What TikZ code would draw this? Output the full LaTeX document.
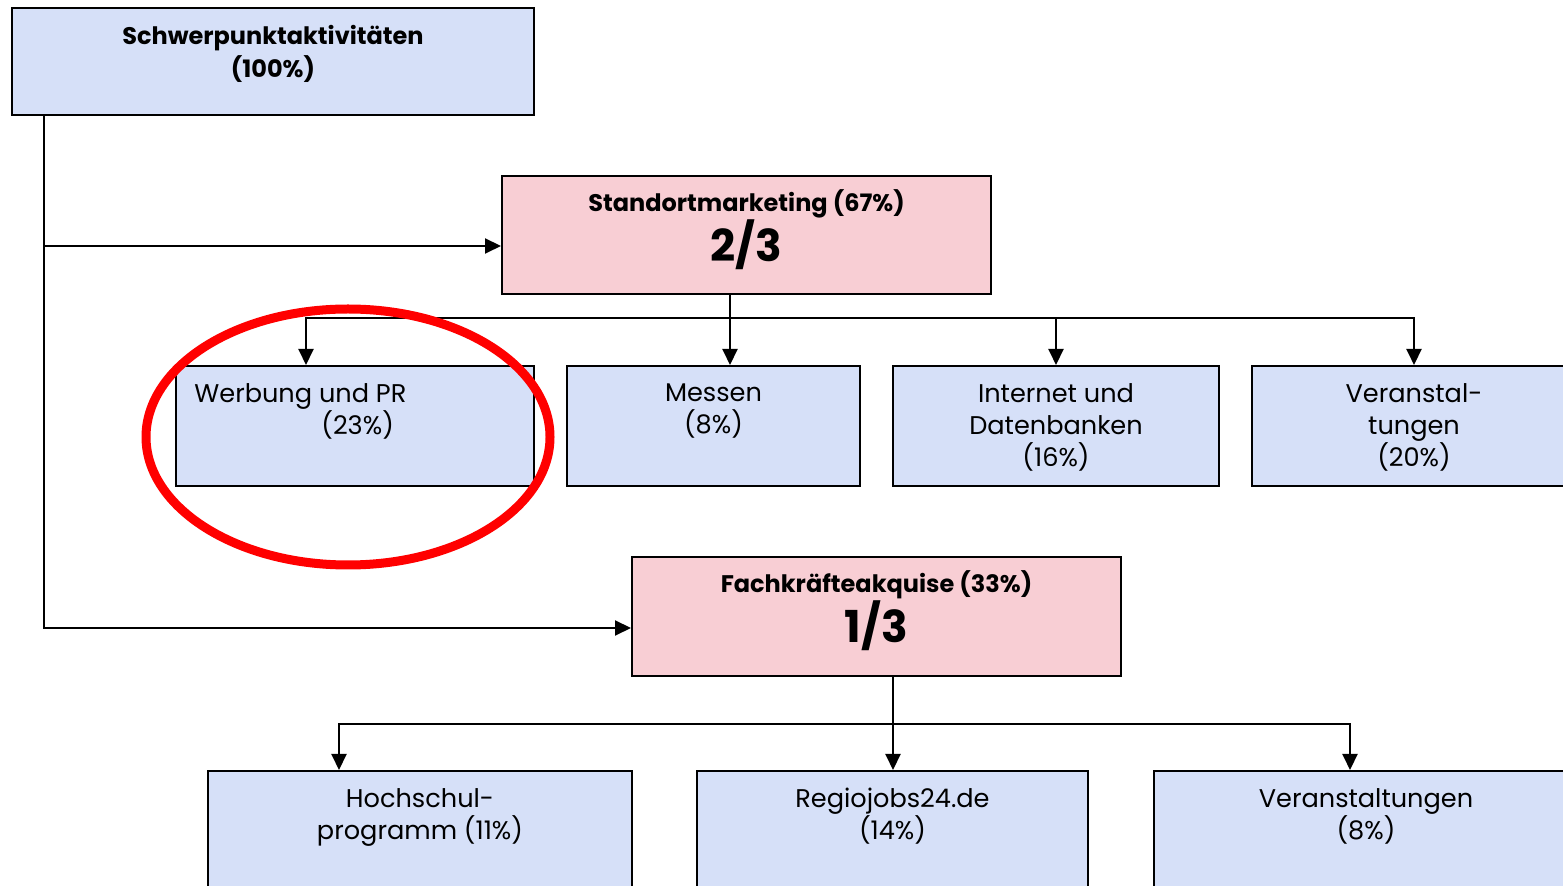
\documentclass[tikz,border=0pt]{standalone}
\usepackage{fontspec}
\setmainfont{Poppins}
\usetikzlibrary{arrows.meta}
\definecolor{boxblue}{RGB}{214,224,248}
\definecolor{boxpink}{RGB}{248,206,212}
\tikzset{
  bluebox/.style={draw=black, line width=1pt, fill=boxblue, inner sep=0pt},
  pinkbox/.style={draw=black, line width=1pt, fill=boxpink, inner sep=0pt},
  txt/.style={align=center, inner sep=0pt, font=\fontsize{12.8}{16}\selectfont},
  boldtxt/.style={align=center, inner sep=0pt, font=\fontsize{12}{16.5}\selectfont\bfseries},
  arr/.style={line width=1pt, -{Triangle[length=8pt,width=7.5pt]}},
  line/.style={line width=1pt}
}

\begin{document}
\begin{tikzpicture}[x=0.5pt,y=-0.5pt]
\useasboundingbox (0,0) rectangle (1563,886);
\clip (0,0) rectangle (1563,886);

% top level
\node[bluebox, minimum width=261pt, minimum height=53.5pt] (top) at (273,61.5) {};
\node[boldtxt, anchor=north] (top-t) at ([yshift=-9pt]top.north) {Schwerpunktaktivitäten\\(100\%)};

% second level
\node[pinkbox, minimum width=244.5pt, minimum height=59pt] (standort) at (746.5,235) {};
\node[boldtxt, anchor=north] (standort-t) at ([yshift=-7pt]standort.north)
  {Standortmarketing (67\%)\\{\fontsize{22}{24}\selectfont 2/3}};
\node[pinkbox, minimum width=244.5pt, minimum height=59.5pt] (fach) at (876.5,616.5) {};
\node[boldtxt, anchor=north] (fach-t) at ([yshift=-7pt]fach.north)
  {Fachkräfteakquise (33\%)\\{\fontsize{22}{24}\selectfont 1/3}};

% Standortmarketing
\node[bluebox, minimum width=179pt, minimum height=60pt] (werbung) at (355,426) {};
\node[txt, anchor=north west, align=left] (werbung-t) at ([xshift=9.5pt,yshift=-9pt]werbung.north west)
  {Werbung und PR\\\hspace*{63.5pt}(23\%)};
\node[bluebox, minimum width=146.5pt, minimum height=60pt] (messen) at (713.5,426) {};
\node[txt, anchor=north] (messen-t) at ([yshift=-9pt]messen.north) {Messen\\(8\%)};
\node[bluebox, minimum width=163pt, minimum height=60pt] (internet) at (1056,426) {};
\node[txt, anchor=north] (internet-t) at ([yshift=-9pt]internet.north) {Internet und\\Datenbanken\\(16\%)};
\node[bluebox, minimum width=162pt, minimum height=60pt] (veranst1) at (1414,426) {};
\node[txt, anchor=north] (veranst1-t) at ([yshift=-9pt]veranst1.north) {Veranstal-\\tungen\\(20\%)};

% Fachkraefteakquise
\node[bluebox, minimum width=212pt, minimum height=70pt] (hochschul) at (420,841) {};
\node[txt, anchor=north] (hochschul-t) at ([yshift=-9pt]hochschul.north) {Hochschul-\\programm (11\%)};
\node[bluebox, minimum width=195.5pt, minimum height=70pt] (regio) at (892.5,841) {};
\node[txt, anchor=north] (regio-t) at ([yshift=-9pt]regio.north) {Regiojobs24.de\\(14\%)};
\node[bluebox, minimum width=212pt, minimum height=70pt] (veranst2) at (1366,841) {};
\node[txt, anchor=north] (veranst2-t) at ([yshift=-9pt]veranst2.north) {Veranstaltungen\\(8\%)};

% connectors
\draw[arr] ([xshift=16.5pt]top.south west) |- ([yshift=-5.5pt]standort.west);
\draw[arr] ([xshift=16.5pt]top.south west) |- ([yshift=-5.75pt]fach.west);

\coordinate (sbus) at (730,318);
\draw[line] ([xshift=-8.25pt]standort.south) -- (sbus);
\draw[arr] (sbus) -| ([xshift=-24.5pt]werbung.north);
\draw[arr] (sbus) -- ([xshift=8.25pt]messen.north);
\draw[arr] (sbus) -| (internet.north);
\draw[arr] (sbus) -| (veranst1.north);

\coordinate (fbus) at (893,724);
\draw[line] ([xshift=8.25pt]fach.south) -- (fbus);
\draw[arr] (fbus) -| ([xshift=-40.5pt]hochschul.north);
\draw[arr] (fbus) -- ([xshift=0.25pt]regio.north);
\draw[arr] (fbus) -| ([xshift=-8pt]veranst2.north);

% marking
\draw[red, line width=4.5pt] (348,437) ellipse [x radius=101pt, y radius=64pt];
\end{tikzpicture}
\end{document}
